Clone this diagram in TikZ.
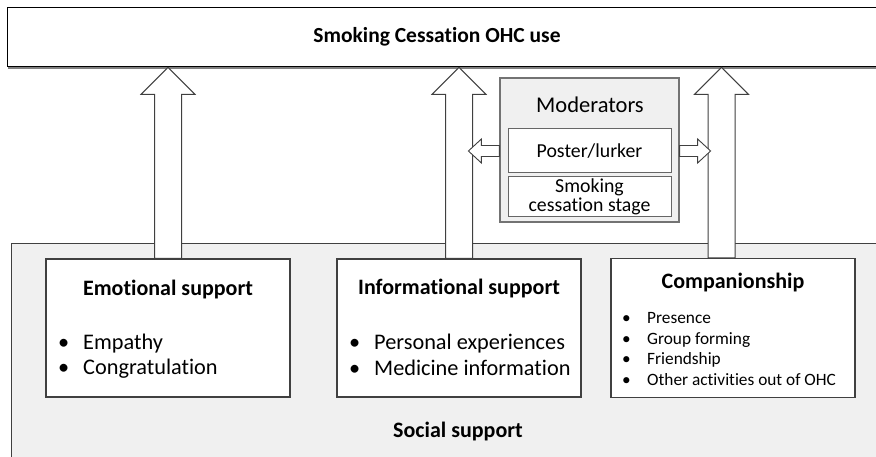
\documentclass[tikz,border=0pt]{standalone}
\usepackage{fontspec}
\setmainfont{Carlito}[Ligatures=NoCommon]
\usetikzlibrary{calc,positioning}

% hollow block arrow from a base point up to the bottom of a node
\newcommand{\bigarrow}[2]{%
	\draw[hollow] let \p1=(#1), \p2=(#2.south) in
		(\x1-13.5pt,\y1)--(\x1-13.5pt,\y2-27pt)--(\x1-27pt,\y2-27pt)--(\x1,\y2)
		--(\x1+27pt,\y2-27pt)--(\x1+13.5pt,\y2-27pt)--(\x1+13.5pt,\y1)--cycle;
}
% small hollow arrow sideways out of a node border (#2 = -1 left, 1 right)
\newcommand{\sidearrow}[2]{%
	\draw[hollow, line width=0.9pt] let \p1=(#1) in
		(\x1,\y1-5.5pt)--++({#2*18},0)--++(0,-6.5)--++({#2*13},12)
		--++({-13*#2},12)--++(0,-6.5)--++({-18*#2},0)--cycle;
}

\begin{document}
\begin{tikzpicture}[x=1pt,y=1pt,
	box/.style={draw=black!75, line width=1.2pt, fill=white, minimum width=244pt, minimum height=138pt, inner sep=0pt},
	hollow/.style={draw=black!75, line width=1pt, fill=white, line join=miter},
	ttl/.style={font=\bfseries\fontsize{22}{26}\selectfont},
	item/.style={font=\fontsize{22.3}{25}\selectfont, anchor=base west, inner sep=0pt},
	smallitem/.style={font=\fontsize{17.3}{20}\selectfont, anchor=base west, inner sep=0pt},
	modbox/.style={draw=black!60, line width=1pt, fill=white, minimum width=163pt, inner sep=0pt}
]

\clip (0,0) rectangle (876,456);
\useasboundingbox (0,0) rectangle (876,456);

% social support area
\node[draw=black!75, fill=black!6, line width=1.2pt, anchor=north west, minimum width=900pt, minimum height=250pt, inner sep=0pt] (social) at (11,213) {};
\node[ttl] (socialtxt) at (458,24) {Social support};

% top bar
\node[draw=black!50, fill=black!50, anchor=north west, minimum width=900pt, minimum height=59pt, inner sep=0pt] at (8,447) {};
\node[draw=black, line width=1.4pt, fill=white, anchor=north west, minimum width=900pt, minimum height=59pt, inner sep=0pt] (ohc) at (7,449) {};
\node[font=\bfseries\fontsize{21.5}{25}\selectfont] (ohctxt) at (437,419) {Smoking Cessation OHC use};

% support types
\node[box] (emo) at (168,128) {};
\node[box] (info) at (459,128) {};
\node[box, minimum height=139pt] (comp) at (733,128) {};

\bigarrow{emo.north}{ohc}
\bigarrow{info.north}{ohc}
\bigarrow{$(comp.north)+(-11.5,0)$}{ohc}

\node[ttl] (emotxt) at (168,166) {Emotional support};
\node[item] (emo1) at (58,107) {\makebox[25pt][l]{\textbullet}Empathy};
\node[item] (emo2) at (58,82) {\makebox[25pt][l]{\textbullet}Congratulation};

\node[ttl] (infotxt) at (459,167) {Informational support};
\node[item] (info1) at (349,107) {\makebox[25pt][l]{\textbullet}Personal experiences};
\node[item] (info2) at (349,81) {\makebox[25pt][l]{\textbullet}Medicine information};

\node[ttl] (comptxt) at (733,173) {Companionship};
\node[smallitem] (comp1) at (622,133) {\makebox[25pt][l]{\textbullet}Presence};
\node[smallitem] (comp2) at (622,112) {\makebox[25pt][l]{\textbullet}Group forming};
\node[smallitem] (comp3) at (622,92) {\makebox[25pt][l]{\textbullet}Friendship};
\node[smallitem] (comp4) at (622,71) {\makebox[25pt][l]{\textbullet}Other activities out of OHC};

% moderators
\node[draw=black!55, line width=1.2pt, fill=black!6, minimum width=179pt, minimum height=144pt, inner sep=0pt] (mod) at (589.5,306) {};
\node[font=\fontsize{22.5}{26}\selectfont] (modtxt) at (590,351) {Moderators};
\node[modbox, minimum height=44pt, font=\fontsize{19.8}{22}\selectfont] (poster) at (589.5,305) {Poster/lurker};
\node[modbox, minimum height=40pt, align=center, font=\fontsize{19.8}{19}\selectfont] (stage) at (589.5,259) {Smoking\\cessation stage};

\sidearrow{mod.west |- poster}{-1}
\sidearrow{mod.east |- poster}{1}

\end{tikzpicture}
\end{document}
